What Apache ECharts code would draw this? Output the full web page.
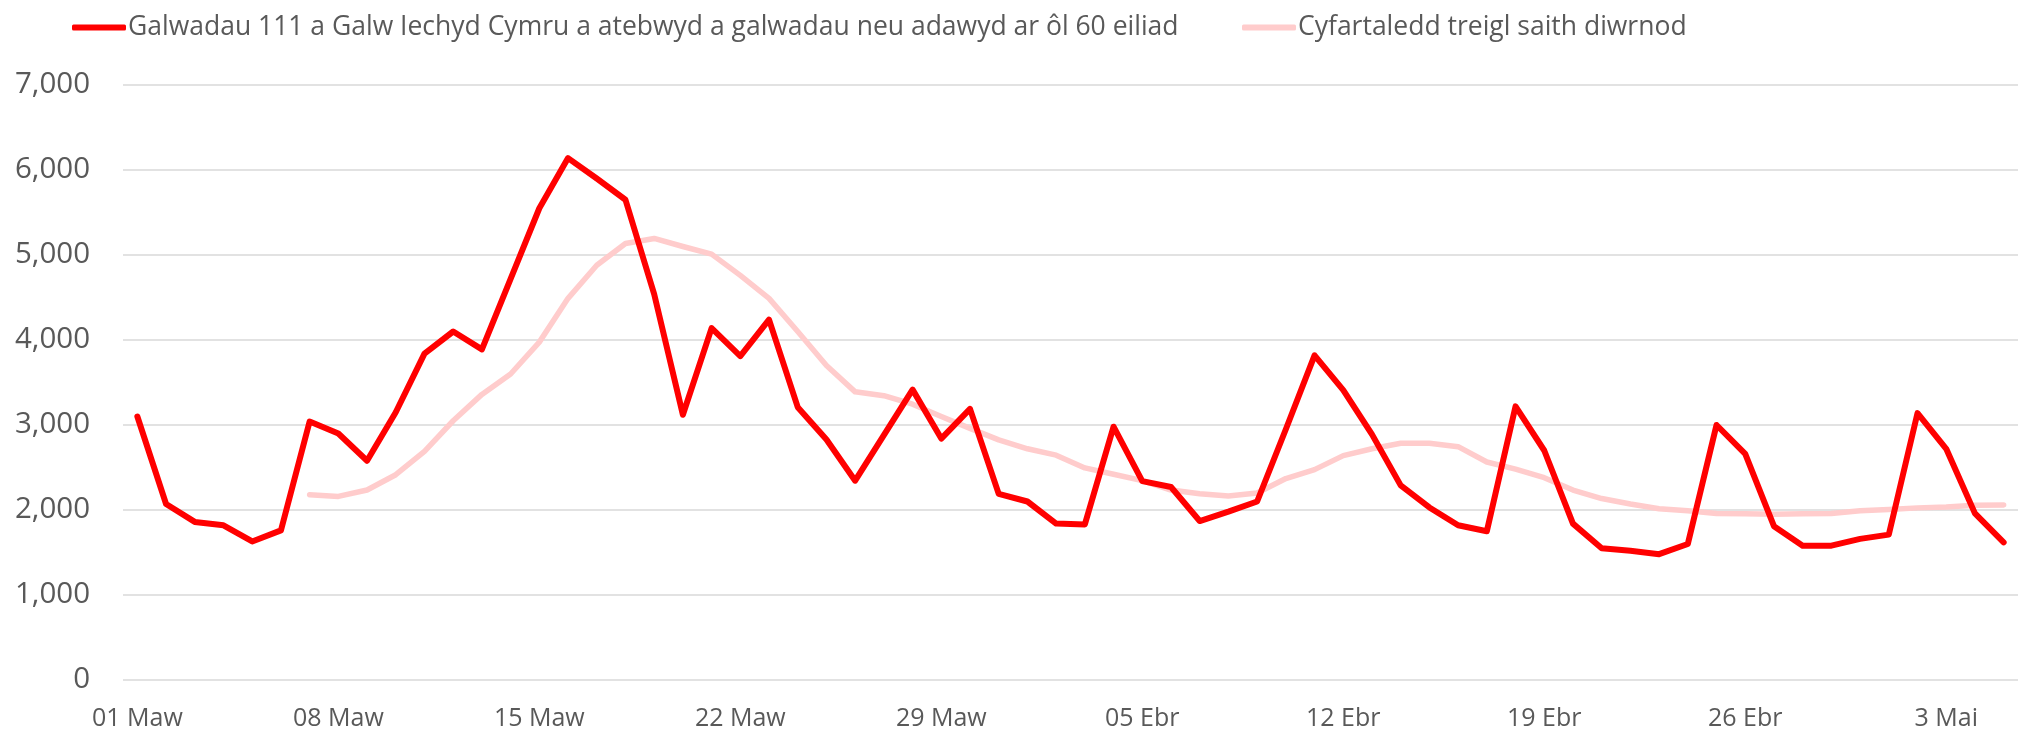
<!DOCTYPE html>
<html lang="cy">
<head>
	<meta charset="UTF-8">
	<title>Galwadau 111</title>
	<style>
		html, body { margin: 0; padding: 0; background: #fff; }
		#chart { width: 2018px; height: 732px; }
	</style>
</head>
<body>
	<div id="chart"></div>
<script src="https://cdn.jsdelivr.net/npm/echarts@6/dist/echarts.min.js"></script>
<script>
// dyddiau: 01 Maw .. 05 Mai (66 diwrnod)
var monthNames = ['Maw', 'Ebr', 'Mai'];
var monthLengths = [31, 30, 5];

// labeli'r echelin x, un bob 7 diwrnod
var tickLabels = ['01 Maw', '08 Maw', '15 Maw', '22 Maw', '29 Maw', '05 Ebr', '12 Ebr', '19 Ebr', '26 Ebr', '3 Mai'];

var seriesNames = [
  'Galwadau 111 a Galw Iechyd Cymru a atebwyd a galwadau neu adawyd ar ôl 60 eiliad',
  'Cyfartaledd treigl saith diwrnod'
];

var calls = [
  3100, 2070, 1860, 1820, 1630, 1760, 3040, 2900, 2580, 3150,
  3840, 4100, 3890, 4720, 5550, 6140, 5900, 5650, 4540, 3120,
  4140, 3810, 4240, 3210, 2830, 2345, 2880, 3416, 2840, 3190,
  2190, 2100, 1840, 1830, 2980, 2340, 2270, 1870, 1980, 2100,
  2950, 3820, 3410, 2890, 2290, 2030, 1820, 1750, 3220, 2700,
  1840, 1550, 1520, 1480, 1600, 3000, 2660, 1810, 1580, 1580,
  1660, 1710, 3140, 2720, 1960, 1620
];

var rolling = [
  null, null, null, null, null, null, 2180, 2160, 2235, 2415,
  2690, 3050, 3360, 3600, 3975, 4490, 4880, 5135, 5195, 5100,
  5010, 4760, 4490, 4100, 3700, 3390, 3345, 3245, 3100, 2960,
  2825, 2720, 2645, 2495, 2420, 2345, 2235, 2190, 2165, 2200,
  2370, 2475, 2640, 2720, 2785, 2785, 2745, 2565, 2480, 2380,
  2235, 2135, 2070, 2015, 1990, 1960, 1955, 1950, 1955, 1960,
  1990, 2005, 2025, 2035, 2055, 2060
];

var days = [];
for (var m = 0; m < monthNames.length; m++) {
  for (var d = 1; d <= monthLengths[m]; d++) {
    days.push((d < 10 ? '0' + d : d) + ' ' + monthNames[m]);
  }
}

var textColor = '#595959';
var font = '"Open Sans", "Noto Sans", sans-serif';

var myChart = echarts.init(document.getElementById('chart'));

var option = {
  animation: false,
  color: ['#ff0000', '#ffcccc'],
  textStyle: { fontFamily: font, color: textColor },
  legend: [
    {
      left: 67,
      top: 9,
      data: [seriesNames[0]],
      icon: 'roundRect',
      itemWidth: 54,
      itemHeight: 6,
      itemGap: 0,
      textStyle: { color: textColor, fontSize: 26.5, fontFamily: font, padding: [0, 0, 0, -3] }
    },
    {
      left: 1237,
      top: 9,
      data: [seriesNames[1]],
      icon: 'roundRect',
      itemWidth: 54,
      itemHeight: 6,
      itemGap: 0,
      textStyle: { color: textColor, fontSize: 26.5, fontFamily: font, padding: [0, 0, 0, -3] }
    }
  ],
  grid: {
    left: 123,
    top: 85,
    width: 1896,
    height: 595,
    containLabel: false
  },
  xAxis: {
    type: 'category',
    data: days,
    boundaryGap: true,
    axisLine: { show: false },
    axisTick: { show: false },
    splitLine: { show: false },
    axisLabel: {
      interval: 6,
      margin: 26,
      color: textColor,
      fontSize: 25,
      fontFamily: font,
      formatter: function (value, index) {
        return tickLabels[index / 7];
      }
    }
  },
  yAxis: {
    type: 'value',
    min: 0,
    max: 7000,
    interval: 1000,
    axisLine: { show: false },
    axisTick: { show: false },
    splitLine: { lineStyle: { color: '#d9d9d9', width: 1.7 } },
    axisLabel: {
      margin: 33,
      color: textColor,
      fontSize: 29.5,
      fontFamily: font,
      formatter: function (v) { return v.toLocaleString('en-US'); }
    }
  },
  series: [
    {
      name: seriesNames[0],
      type: 'line',
      data: calls,
      symbol: 'none',
      lineStyle: { color: '#ff0000', width: 6, join: 'round', cap: 'round' },
      z: 3
    },
    {
      name: seriesNames[1],
      type: 'line',
      data: rolling,
      symbol: 'none',
      lineStyle: { color: '#ffcccc', width: 5.5, join: 'round', cap: 'round' },
      z: 2
    }
  ]
};

myChart.setOption(option);
</script>
</body>
</html>
